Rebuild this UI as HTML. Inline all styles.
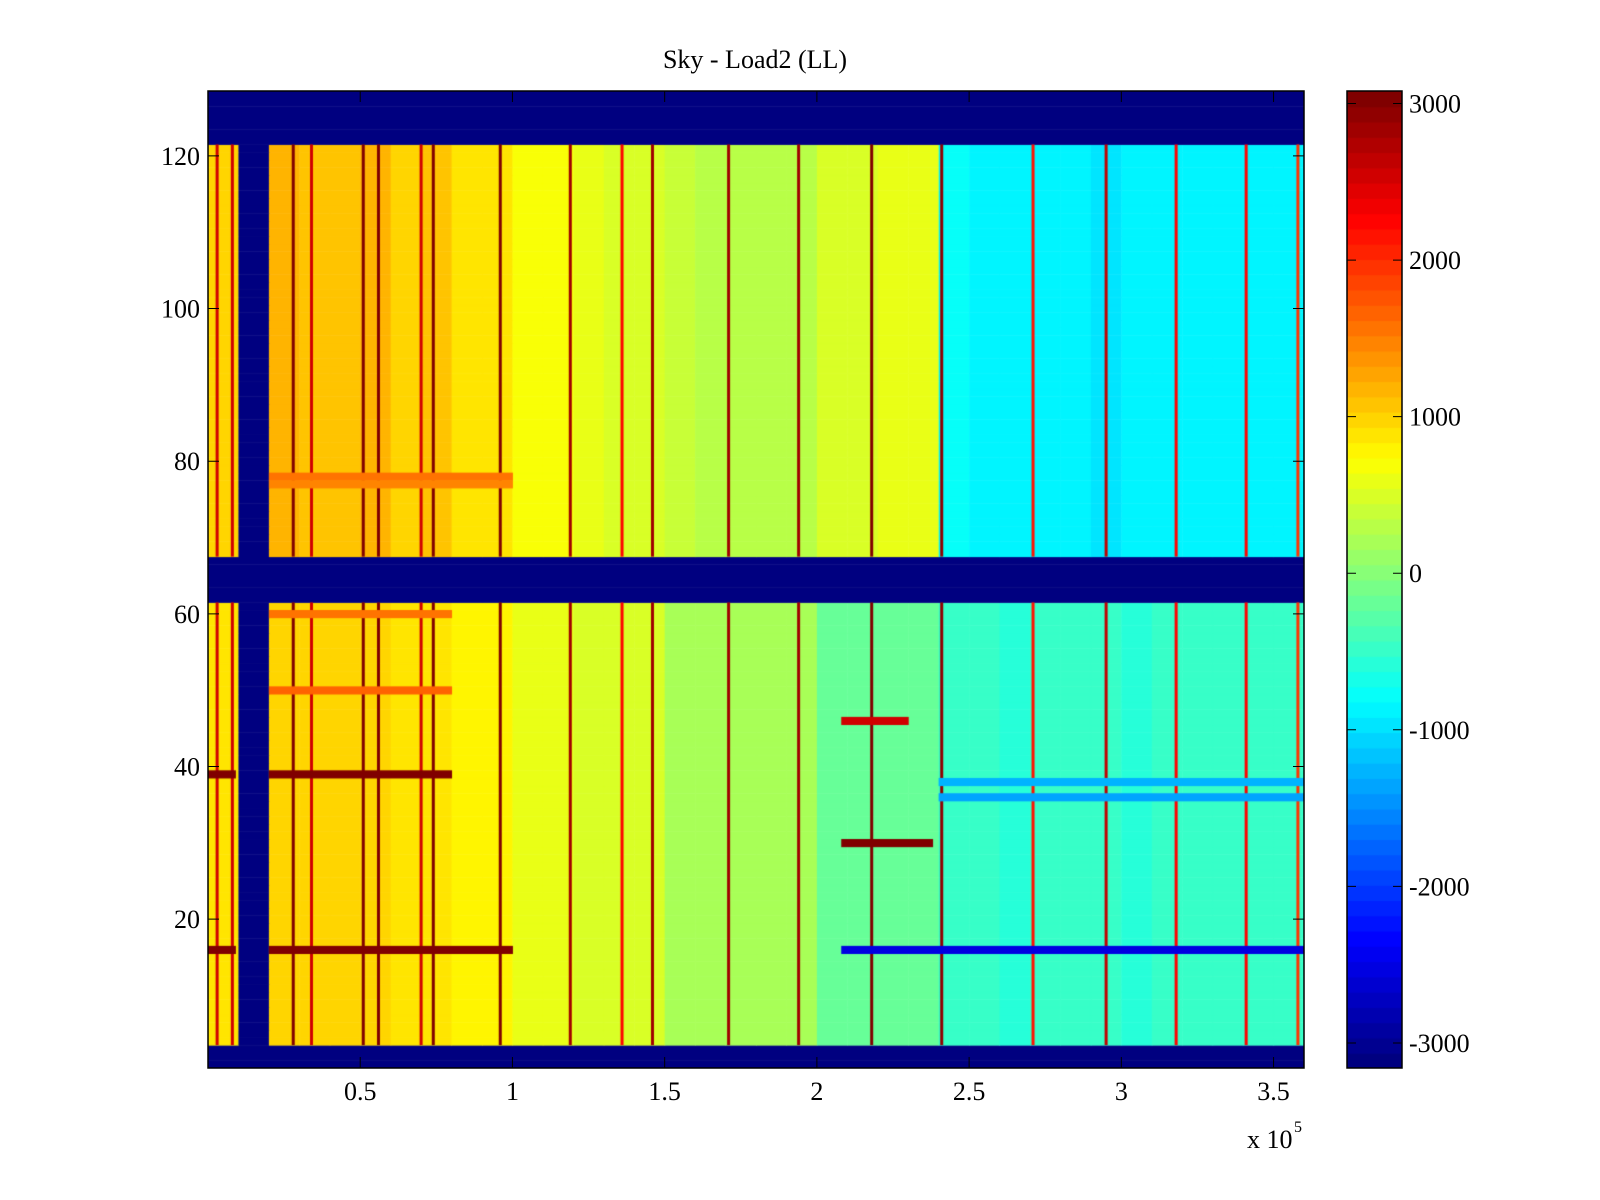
<!DOCTYPE html>
<html><head><meta charset="utf-8"><style>
body{margin:0;background:#fff;width:1600px;height:1200px;position:relative;overflow:hidden;font-family:"Liberation Serif",serif;}
canvas{position:absolute}
</style></head><body>
<canvas id="hm" width="1096" height="977" style="left:208px;top:91px"></canvas>
<canvas id="cb" width="55" height="977" style="left:1347px;top:91px"></canvas>
<svg id="ax" width="1600" height="1200" style="position:absolute;left:0;top:0"></svg>
<script>
// ---- data ----
const xMax = 3.6;             // x axis in units of 1e5
const nRows = 128;
const clim = [-3160, 3080];
// column profiles, one value per 0.1e5 bin (36 bins)
const upperProfile = [1000,-3100,1200,1100,1100,1200,1000,1100,900,900,700,700,600,500,500,400,300,300,300,300,500,500,600,600,-800,-900,-900,-900,-900,-1000,-900,-900,-900,-900,-900,-900];
const lowerProfile = [900,-3100,1000,1000,1000,1000,900,900,800,800,600,600,500,500,450,200,200,200,200,200,-200,-200,-200,-200,-500,-500,-600,-500,-500,-500,-600,-500,-500,-500,-500,-500];
// blank rows (plotted as min)
const blankRows = [[1,3],[62,67],[122,128]];
// vertical stripes (x in 1e5 units)
const stripeX = [0.03,0.08,0.28,0.34,0.51,0.56,0.70,0.74,0.96,1.19,1.36,1.46,1.71,1.94,2.18,2.41,2.71,2.95,3.18,3.41,3.58];
const stripeVal = [2500,2500,3000,2500,3000,3000,2500,3000,3000,2800,2300,2800,2800,2800,3000,2900,2200,2600,2300,2300,2000];
// horizontal features: row, x0, x1, value
const bandRow = [39,39,16,16,16,30,46,36,38,78,77,60,50];
const bandX0 = [0,0.2,0,0.2,2.08,2.08,2.08,2.4,2.4,0.2,0.2,0.2,0.2];
const bandX1 = [0.09,0.8,0.09,1.0,3.6,2.38,2.3,3.6,3.6,1.0,1.0,0.8,0.8];
const bandVal = [3000,3000,3000,3000,-2500,3000,2500,-1400,-1300,1600,1500,1600,1700];
// axis ticks
const yTicks = [20,40,60,80,100,120];
const xTicks = [0.5,1,1.5,2,2.5,3,3.5];
const cbTicks = [3000,2000,1000,0,-1000,-2000,-3000];

// ---- scales ----
const PX=208, PY=91, PW=1096, PH=977;
const sx = v => v/xMax*PW;
const sy = r => (128.5 - r)/128*PH;
function jet(v){
  let t=(v-clim[0])/(clim[1]-clim[0]); t=Math.max(0,Math.min(1,t));
  t=Math.floor(t*63.999)/63;
  const c=x=>Math.round(255*Math.max(0,Math.min(1,x)));
  return `rgb(${c(1.5-Math.abs(4*t-3))},${c(1.5-Math.abs(4*t-2))},${c(1.5-Math.abs(4*t-1))})`;
}
const ctx=document.getElementById('hm').getContext('2d');
function rowRect(r,x0,x1,v){ctx.fillStyle=jet(v);ctx.fillRect(sx(x0),sy(r+0.5),sx(x1)-sx(x0)+0.5,sy(r-0.5)-sy(r+0.5)+0.5);}
for(let r=1;r<=nRows;r++){
  const blank=blankRows.some(b=>r>=b[0]&&r<=b[1]);
  if(blank){rowRect(r,0,xMax,-3200);continue;}
  const prof=r>=68?upperProfile:lowerProfile;
  for(let i=0;i<prof.length;i++){rowRect(r,i*0.1,(i+1)*0.1,prof[i]);}
}
for(let i=0;i<stripeX.length;i++){
  ctx.fillStyle=jet(stripeVal[i]);
  [[4,61],[68,121]].forEach(s=>{ctx.fillRect(sx(stripeX[i])-1.5,sy(s[1]+0.5),3,sy(s[0]-0.5)-sy(s[1]+0.5));});
}
for(let i=0;i<bandRow.length;i++) rowRect(bandRow[i],bandX0[i],bandX1[i],bandVal[i]);
// colorbar
const cb=document.getElementById('cb').getContext('2d');
for(let k=0;k<64;k++){const v=clim[0]+(k+0.5)/64*(clim[1]-clim[0]);cb.fillStyle=jet(v);const y0=PH-(k+1)/64*PH;cb.fillRect(0,y0,55,PH/64+1);}
// axes
const svg=document.getElementById('ax');const NS='http://www.w3.org/2000/svg';
function el(tag,attrs,txt){const e=document.createElementNS(NS,tag);for(const k in attrs)e.setAttribute(k,attrs[k]);if(txt!==undefined)e.textContent=txt;svg.appendChild(e);return e;}
const FONT='Liberation Serif, serif';
let ti=el('text',{x:755,y:68,'text-anchor':'middle','font-size':26,'font-family':FONT},'Sky - Load2 (LL)');


let f=el('rect',{x:PX,y:PY,width:PW,height:PH,fill:'none',stroke:'#000','stroke-width':1.5});


yTicks.forEach(t=>{const y=PY+sy(t);
  let l=el('path',{d:`M${PX} ${y}h11M${PX+PW} ${y}h-11`,stroke:'#000'});
  
  
  let tx=el('text',{x:PX-8,y:y+9,'text-anchor':'end','font-size':26,'font-family':FONT},t);
  
  
});
xTicks.forEach(t=>{const x=PX+sx(t);
  let l=el('path',{d:`M${x} ${PY+PH}v-11M${x} ${PY}v11`,stroke:'#000'});
  
  
  let tx=el('text',{x:x,y:1100,'text-anchor':'middle','font-size':26,'font-family':FONT},t);
  
  
});
let ex=el('text',{x:1247,y:1148,'font-size':26,'font-family':FONT},'x 10');


let ex2=el('text',{x:1294,y:1132,'font-size':16,'font-family':FONT},'5');


let cf=el('rect',{x:1347,y:PY,width:55,height:PH,fill:'none',stroke:'#000','stroke-width':1.5});


cbTicks.forEach(t=>{const y=PY+(clim[1]-t)/(clim[1]-clim[0])*PH;
  let l=el('path',{d:`M1347 ${y}h9M1402 ${y}h-9`,stroke:'#000'});
  
  
  let tx=el('text',{x:1409,y:y+9,'font-size':26,'font-family':FONT},t);
  
  
});
</script>
</body></html>
